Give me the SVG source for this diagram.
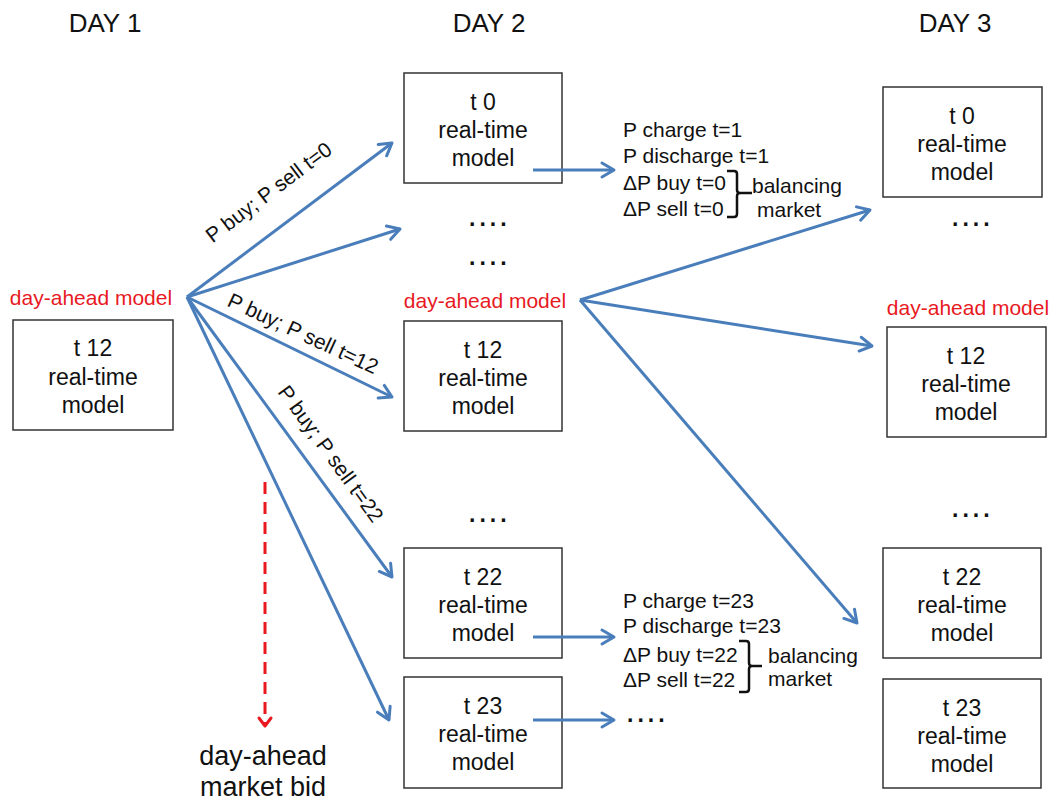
<svg xmlns="http://www.w3.org/2000/svg" width="1057" height="806" viewBox="0 0 1057 806">
<style>
text{font-family:"Liberation Sans",Arial,sans-serif;fill:#111}
.hdr{font-size:26px;text-anchor:middle}
.box rect{fill:#fff;stroke:#333;stroke-width:1.5}
.box text{font-size:23px;text-anchor:middle}
.red{fill:#e8191f;font-size:21px;text-anchor:middle}
.lbl{font-size:21px;text-anchor:middle}
.bm{font-size:21px}
.dots{font-size:23px;letter-spacing:4px;font-weight:bold}
.blue{stroke:#4a7ebb;stroke-width:3;fill:none;marker-end:url(#ah)}
.brace{stroke:#111;stroke-width:2.5;fill:none}
</style>
<defs>
<marker id="ah" markerUnits="userSpaceOnUse" markerWidth="30" markerHeight="30" refX="15" refY="15" orient="auto" viewBox="0 0 30 30">
<path d="M3,8 L15,15 L3,22" fill="none" stroke="#4a7ebb" stroke-width="3" stroke-linecap="round" stroke-linejoin="round"/>
</marker>
<marker id="ahr" markerUnits="userSpaceOnUse" markerWidth="30" markerHeight="30" refX="15" refY="15" orient="auto" viewBox="0 0 30 30">
<path d="M7,9 L15,15 L7,21" fill="none" stroke="#e8191f" stroke-width="3" stroke-linecap="round" stroke-linejoin="round"/>
</marker>
</defs>
<rect width="1057" height="806" fill="#fff"/>
<g id="headers">
<text class="hdr" x="105" y="32">DAY 1</text>
<text class="hdr" x="489" y="32">DAY 2</text>
<text class="hdr" x="955" y="32">DAY 3</text>
</g>
<g id="d1-t12" class="box"><rect x="13" y="320" width="160" height="110"/><text x="93" y="356">t 12</text><text x="93" y="385">real-time</text><text x="93" y="413">model</text></g>
<g id="d2-t0" class="box"><rect x="404" y="73" width="158" height="110"/><text x="483" y="110">t 0</text><text x="483" y="138">real-time</text><text x="483" y="166">model</text></g>
<g id="d2-t12" class="box"><rect x="404" y="321" width="158" height="110"/><text x="483" y="358">t 12</text><text x="483" y="386">real-time</text><text x="483" y="414">model</text></g>
<g id="d2-t22" class="box"><rect x="404" y="548" width="158" height="110"/><text x="483" y="585">t 22</text><text x="483" y="613">real-time</text><text x="483" y="641">model</text></g>
<g id="d2-t23" class="box"><rect x="404" y="677" width="158" height="111"/><text x="483" y="714">t 23</text><text x="483" y="742">real-time</text><text x="483" y="770">model</text></g>
<g id="d3-t0" class="box"><rect x="883" y="87" width="159" height="110"/><text x="962" y="124">t 0</text><text x="962" y="152">real-time</text><text x="962" y="180">model</text></g>
<g id="d3-t12" class="box"><rect x="887" y="327" width="159" height="110"/><text x="966" y="364">t 12</text><text x="966" y="392">real-time</text><text x="966" y="420">model</text></g>
<g id="d3-t22" class="box"><rect x="883" y="548" width="158" height="110"/><text x="962" y="585">t 22</text><text x="962" y="613">real-time</text><text x="962" y="641">model</text></g>
<g id="d3-t23" class="box"><rect x="883" y="679" width="158" height="109"/><text x="962" y="716">t 23</text><text x="962" y="744">real-time</text><text x="962" y="772">model</text></g>
<g id="red-labels">
<text class="red" x="91" y="305">day-ahead model</text>
<text class="red" x="485" y="308">day-ahead model</text>
<text class="red" x="968" y="315">day-ahead model</text>
</g>
<g id="dots">
<text class="dots" x="469" y="226">....</text>
<text class="dots" x="469" y="265">....</text>
<text class="dots" x="469" y="522">....</text>
<text class="dots" x="952" y="226">....</text>
<text class="dots" x="952" y="517">....</text>
<text class="dots" x="627" y="722">....</text>
</g>
<g id="connectors">
<line class="blue" x1="187" y1="297" x2="392" y2="143"/>
<line class="blue" x1="187" y1="297" x2="400" y2="229"/>
<line class="blue" x1="187" y1="297" x2="392" y2="397"/>
<line class="blue" x1="187" y1="297" x2="392" y2="577"/>
<line class="blue" x1="187" y1="297" x2="389" y2="720"/>
<line class="blue" x1="580" y1="300" x2="870" y2="210"/>
<line class="blue" x1="580" y1="300" x2="872" y2="346"/>
<line class="blue" x1="580" y1="300" x2="857" y2="623"/>
<line class="blue" x1="533" y1="170" x2="614" y2="170"/>
<line class="blue" x1="533" y1="637" x2="614" y2="637"/>
<line class="blue" x1="533" y1="720" x2="614" y2="720"/>
<line x1="265" y1="482" x2="265" y2="726" stroke="#e8191f" stroke-width="3" stroke-dasharray="12,8" marker-end="url(#ahr)"/>
</g>
<g id="arrow-labels">
<text class="lbl" transform="translate(273,198) rotate(-37)">P buy; P sell t=0</text>
<text class="lbl" transform="translate(300,340) rotate(25)">P buy; P sell t=12</text>
<text class="lbl" transform="translate(325,458) rotate(54)">P buy; P sell t=22</text>
</g>
<g id="balance-1">
<text class="bm" x="623" y="137">P charge t=1</text>
<text class="bm" x="623" y="163">P discharge t=1</text>
<text class="bm" x="623" y="190">ΔP buy t=0</text>
<text class="bm" x="623" y="216">ΔP sell t=0</text>
<path class="brace" d="M727,171 L734,171 Q737,171 737,174 L737,190 Q737,193 740,193 L752,193 M740,193 Q737,193 737,196 L737,214 Q737,217 734,217 L727,217"/>
<text class="bm" x="752" y="193">balancing</text>
<text class="bm" x="757" y="217">market</text>
</g>
<g id="balance-2">
<text class="bm" x="623" y="608">P charge t=23</text>
<text class="bm" x="623" y="633">P discharge t=23</text>
<text class="bm" x="623" y="662">ΔP buy t=22</text>
<text class="bm" x="623" y="687">ΔP sell t=22</text>
<path class="brace" d="M739,641 L746,641 Q749,641 749,644 L749,663 Q749,666 752,666 L762,666 M752,666 Q749,666 749,669 L749,689 Q749,692 746,692 L739,692"/>
<text class="bm" x="768" y="663">balancing</text>
<text class="bm" x="768" y="686">market</text>
</g>
<g id="bid-label">
<text x="263" y="765" font-size="27" text-anchor="middle">day-ahead</text>
<text x="263" y="796" font-size="27" text-anchor="middle">market bid</text>
</g>
</svg>
